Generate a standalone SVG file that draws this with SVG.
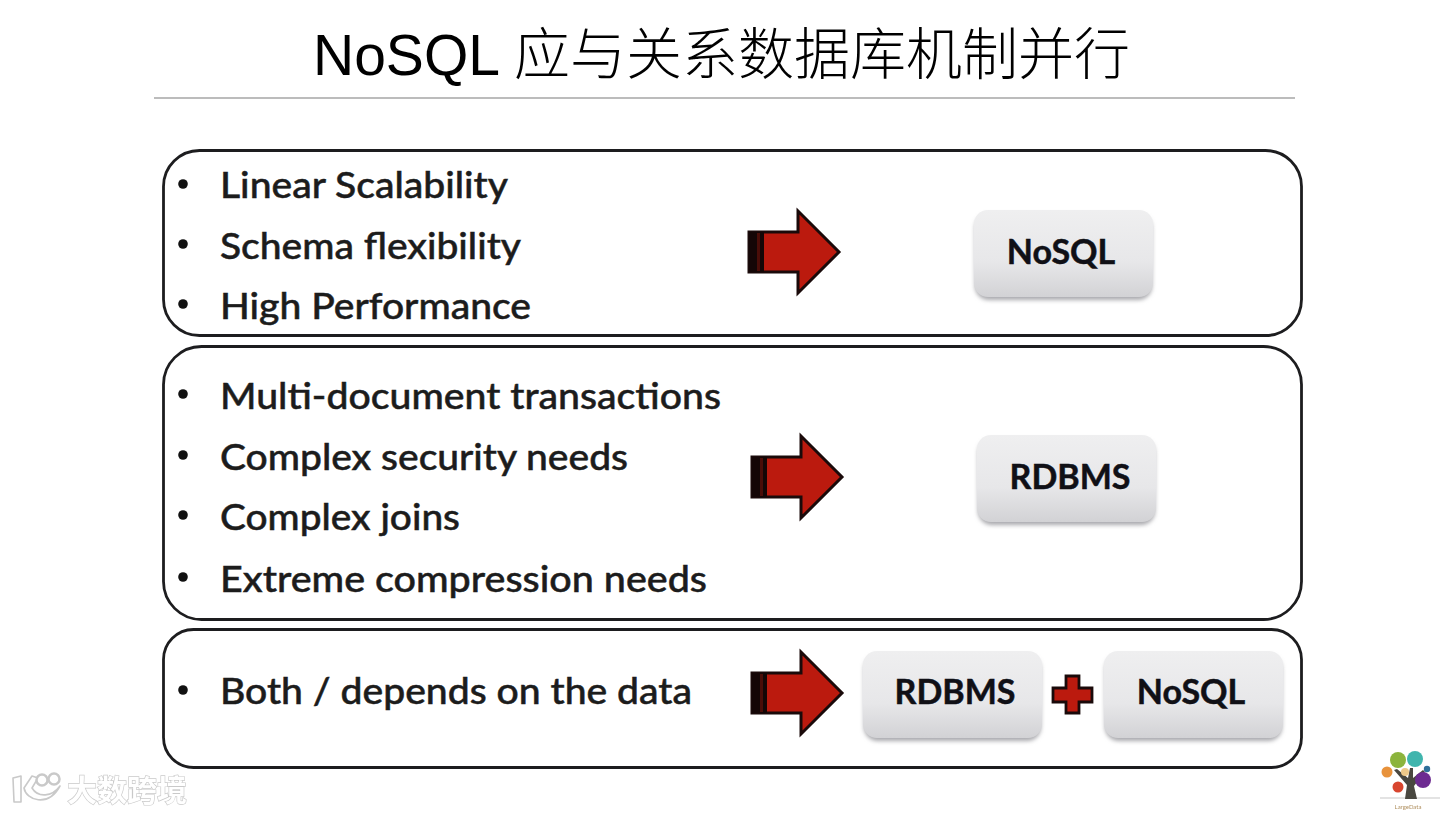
<svg xmlns="http://www.w3.org/2000/svg" width="1442" height="814" viewBox="0 0 1442 814">
<defs>
<linearGradient id="btn" x1="0" y1="0" x2="0" y2="1"><stop offset="0" stop-color="#efeff0"/><stop offset="0.6" stop-color="#e7e7e9"/><stop offset="1" stop-color="#d2d2d5"/></linearGradient>
<filter id="soft" x="-10%" y="-10%" width="120%" height="125%"><feGaussianBlur stdDeviation="2"/></filter>
<filter id="blur1" x="-10%" y="-10%" width="120%" height="120%"><feGaussianBlur stdDeviation="0.5"/></filter>
<g id="arrow">
<path d="M0 -20H49V-41L90 0L49 41V20H0Z" fill="#bb1a0e" stroke="#1a0a0a" stroke-width="3" stroke-linejoin="miter"/>
<rect x="0" y="-20" width="15" height="40" fill="#140606"/>
<rect x="8" y="-19" width="3" height="38" fill="#4a0d08"/>
</g>
</defs>
<style>
text{font-family:"Lato","Open Sans","Noto Sans",sans-serif}
.item{font-size:37px;font-weight:500;fill:#1c1c1c;stroke:#1c1c1c;stroke-width:0.5}
.bul{fill:#111}
.panel{fill:#fff;stroke:#1d1d1f;stroke-width:2.8}
.btn{fill:url(#btn)}
.shadow{fill:#a9a9ad;filter:url(#soft)}
.btxt{font-size:34px;font-weight:700;fill:#101016;stroke:#101016;stroke-width:0.5;text-anchor:middle}
.title{font-family:"Liberation Sans","Noto Sans CJK SC",sans-serif;font-size:57px;fill:#000}
.cjk{font-family:"Noto Sans CJK SC",sans-serif;font-size:56px;font-weight:300}
.wm{font-family:"Noto Sans CJK SC",sans-serif;font-size:30px;font-weight:700;fill:#fff;stroke:#c9c9c9;stroke-width:1.3;paint-order:stroke}
</style>
<rect width="1442" height="814" fill="#fff"/>

<g id="title">
<text class="title" x="313" y="75">NoSQL<tspan class="cjk" x="514" y="74">应与关系数据库机制并行</tspan></text>
<line x1="154" y1="98" x2="1295" y2="98" stroke="#7a7a7a" stroke-width="1.2"/>
</g>

<g id="panel-nosql">
<rect class="panel" x="163.500" y="150.500" width="1138" height="185" rx="36"/>
<circle class="bul" cx="183" cy="184" r="4.800"/><circle class="bul" cx="183" cy="244" r="4.800"/><circle class="bul" cx="183" cy="304" r="4.800"/>
<text class="item" x="220" y="198" textLength="288" lengthAdjust="spacingAndGlyphs">Linear Scalability</text>
<text class="item" x="220" y="259" textLength="301" lengthAdjust="spacingAndGlyphs">Schema flexibility</text>
<text class="item" x="220" y="319" textLength="311" lengthAdjust="spacingAndGlyphs">High Performance</text>
</g>
<g id="panel-rdbms">
<rect class="panel" x="163.500" y="346.500" width="1138" height="273" rx="38"/>
<circle class="bul" cx="183" cy="394" r="4.800"/><circle class="bul" cx="183" cy="455" r="4.800"/><circle class="bul" cx="183" cy="515" r="4.800"/><circle class="bul" cx="183" cy="577" r="4.800"/>
<text class="item" x="220" y="409" textLength="501" lengthAdjust="spacingAndGlyphs">Multi-document transactions</text>
<text class="item" x="220" y="470" textLength="408" lengthAdjust="spacingAndGlyphs">Complex security needs</text>
<text class="item" x="220" y="530" textLength="240" lengthAdjust="spacingAndGlyphs">Complex joins</text>
<text class="item" x="220" y="592" textLength="487" lengthAdjust="spacingAndGlyphs">Extreme compression needs</text>
</g>
<g id="panel-both">
<rect class="panel" x="163.500" y="629.500" width="1138" height="138" rx="30"/>
<circle class="bul" cx="183" cy="690" r="4.800"/>
<text class="item" x="220" y="704" textLength="472" lengthAdjust="spacingAndGlyphs">Both / depends on the data</text>
</g>

<g id="connectors">
<use href="#arrow" x="749" y="252"/>
<use href="#arrow" x="752" y="477"/>
<use href="#arrow" x="752" y="693"/>
</g>

<g id="node-nosql-1">
<rect class="shadow" x="975" y="214" width="177" height="86" rx="14"/>
<rect class="btn" x="974" y="210" width="179" height="87" rx="14"/>
<text class="btxt" x="1061" y="264">NoSQL</text>
</g>
<g id="node-rdbms-1">
<rect class="shadow" x="978" y="439" width="177" height="86" rx="14"/>
<rect class="btn" x="977" y="435" width="179" height="87" rx="14"/>
<text class="btxt" x="1070" y="489">RDBMS</text>
</g>
<g id="node-rdbms-2">
<rect class="shadow" x="864" y="655" width="177" height="86" rx="14"/>
<rect class="btn" x="863" y="651" width="179" height="87" rx="14"/>
<text class="btxt" x="955" y="704">RDBMS</text>
</g>
<g id="plus">
<path d="M1066 676H1079V688H1092V702H1079V713H1066V702H1053V688H1066Z" fill="#bb1a0e" stroke="#1a0a0a" stroke-width="2.8"/>
</g>
<g id="node-nosql-2">
<rect class="shadow" x="1105" y="655" width="177" height="86" rx="14"/>
<rect class="btn" x="1104" y="651" width="179" height="87" rx="14"/>
<text class="btxt" x="1191" y="704">NoSQL</text>
</g>

<g id="watermark" filter="url(#blur1)">
<path d="M13 778L21 776L21 802L14 802ZM32 776L24 788C26 800 48 808 60 786C52 797 38 798 32 788L38 778Z" fill="#fff" stroke="#c9c9c9" stroke-width="1.6" stroke-linejoin="round"/>
<circle cx="42" cy="780" r="5.500" fill="#fff" stroke="#c9c9c9" stroke-width="2.500"/>
<circle cx="54" cy="779" r="5.500" fill="#fff" stroke="#c9c9c9" stroke-width="2.500"/>
<text class="wm" x="67" y="801">大数跨境</text>
</g>

<g id="logo" filter="url(#blur1)">
<line x1="1380" y1="798" x2="1440" y2="798" stroke="#c8c8c8" stroke-width="1.2"/>
<path d="M1405 799L1407 785L1394 770L1397 769L1408 778L1410 768L1413 768L1413 778L1423 770L1425 772L1414 786L1417 799Z" fill="#4a4640"/>
<circle cx="1398" cy="760" r="8" fill="#8cb43c"/>
<circle cx="1415" cy="759" r="8" fill="#3fb5ad"/>
<circle cx="1387" cy="772" r="5.500" fill="#e8923a"/>
<circle cx="1405" cy="772" r="4" fill="#efc98a"/>
<circle cx="1427" cy="769" r="3.200" fill="#2f6f9a"/>
<circle cx="1423" cy="780" r="8" fill="#6d2c91"/>
<circle cx="1398" cy="787" r="5.500" fill="#d8452f"/>
<text x="1408" y="809" font-size="6" text-anchor="middle" fill="#b09060">LargeData</text>
</g>
</svg>
